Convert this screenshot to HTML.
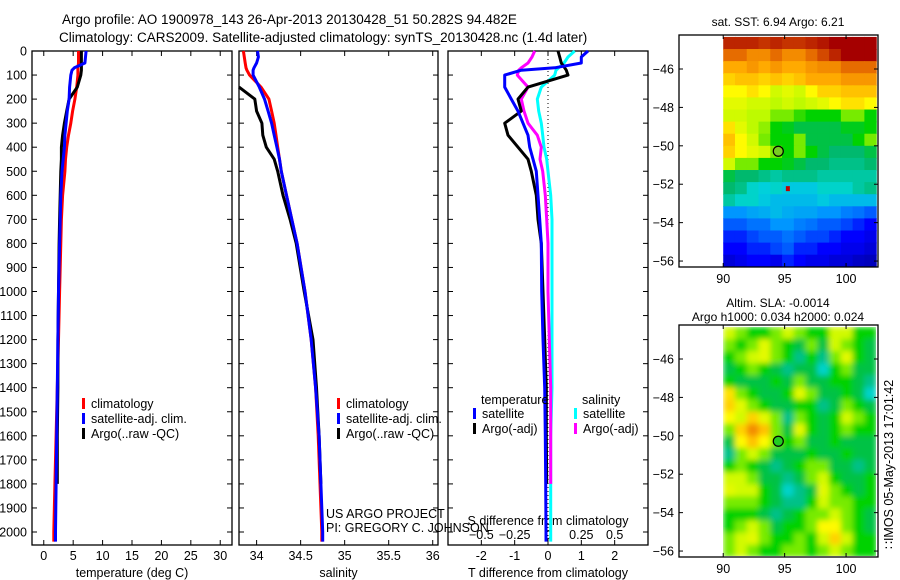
<!DOCTYPE html>
<html><head><meta charset="utf-8">
<style>
html,body{margin:0;padding:0;background:#fff;}
svg{display:block;font-family:"Liberation Sans",sans-serif;}
</style></head>
<body>
<svg id="fig" width="900" height="580" viewBox="0 0 900 580" xmlns="http://www.w3.org/2000/svg">
<defs><filter id="blur" x="0" y="0" width="1" height="1"><feGaussianBlur stdDeviation="3"/></filter>
<clipPath id="clipSLA"><rect x="722" y="327" width="154" height="229"/></clipPath></defs>
<text x="62" y="24" font-size="13.5">Argo profile: AO 1900978_143 26-Apr-2013 20130428_51 50.282S 94.482E</text>
<text x="59" y="42" font-size="13.5">Climatology: CARS2009. Satellite-adjusted climatology: synTS_20130428.nc (1.4d later)</text>
</svg>
<script>
// ---- profile data ----
const depths=[0,25,50,70,80,100,150,200,250,300,350,400,450,500,600,700,800,1000,1200,1400,1600,1800,2000,2040];
const tempClim=[5.9,5.9,5.9,5.8,5.8,5.8,5.6,5.3,4.9,4.6,4.2,3.9,3.7,3.6,3.2,3.0,2.9,2.7,2.5,2.3,2.1,1.9,1.7,1.7];
const tempSat=[7.2,7.1,7.0,5.2,4.8,4.6,4.4,4.3,4.0,3.8,3.6,3.5,3.3,3.1,2.9,2.8,2.7,2.5,2.4,2.3,2.2,2.1,2.0,2.0];
const tempArgo=[6.4,6.4,6.4,6.4,6.4,6.3,5.7,4.3,3.9,3.5,3.2,3.0,3.0,2.9,2.8,2.7,2.6,2.5,2.4,2.4,2.3,2.3,null,null];
const salClim=[33.85,33.86,33.87,33.88,33.89,33.92,34.05,34.14,34.17,34.2,34.22,34.24,34.26,34.28,34.34,34.4,34.46,34.55,34.62,34.67,34.70,34.72,34.74,34.74];
const salSat=[34.01,34.02,34.0,33.97,33.96,33.96,34.03,34.09,34.13,34.17,34.2,34.23,34.26,34.28,34.34,34.4,34.46,34.55,34.62,34.67,34.71,34.73,34.75,34.75];
const salArgo=[null,null,null,null,null,null,33.8,33.98,34.0,34.06,34.07,34.11,34.2,34.24,34.3,34.38,34.45,34.54,34.64,34.68,34.71,34.73,null,null];
const dTsat=[1.2,1.0,1.0,0.2,-0.8,-1.3,-1.3,-1.1,-0.9,-0.75,-0.6,-0.55,-0.45,-0.35,-0.3,-0.25,-0.2,-0.19,-0.15,-0.1,-0.08,-0.07,-0.06,-0.06];
const dTargo=[0.3,0.35,0.4,0.5,0.55,0.6,-0.6,-0.9,-0.8,-1.3,-1.2,-0.9,-0.6,-0.5,-0.35,-0.3,-0.2,-0.15,-0.1,-0.05,-0.05,-0.04,null,null];
const dSsat=[0.2,0.15,0.12,0.08,0.06,0.05,-0.05,-0.08,-0.07,-0.05,-0.04,-0.03,-0.01,0.0,0.02,0.03,0.03,0.03,0.03,0.03,0.02,0.02,0.02,0.02];
const dSargo=[-0.1,-0.12,-0.15,-0.2,-0.22,-0.23,-0.15,-0.2,-0.18,-0.15,-0.08,-0.05,-0.06,-0.04,-0.02,-0.01,0.0,0.0,0.01,0.02,0.02,0.02,null,null];
const depthTicks=[0,100,200,300,400,500,600,700,800,900,1000,1100,1200,1300,1400,1500,1600,1700,1800,1900,2000];
const tempTicks=[0,5,10,15,20,25,30];
const salTicks=[34,34.5,35,35.5,36];
const dTTicks=[-2,-1,0,1,2];
const dSTicks=[-0.5,-0.25,0,0.25,0.5];
// ---- map data (colormap index 0..1) ----
const sstGrid=[
[0.95,0.95,0.95,0.93,0.95,0.93,0.93,0.95,0.97,1,1,1,1],
[0.85,0.85,0.8,0.8,0.85,0.8,0.8,0.85,0.9,0.95,1,1,1],
[0.75,0.75,0.78,0.75,0.78,0.75,0.75,0.78,0.8,0.8,0.85,0.85,0.85],
[0.7,0.72,0.72,0.7,0.72,0.7,0.72,0.75,0.75,0.75,0.78,0.78,0.78],
[0.65,0.65,0.68,0.65,0.6,0.62,0.6,0.65,0.7,0.7,0.72,0.72,0.72],
[0.62,0.62,0.6,0.6,0.58,0.6,0.58,0.6,0.62,0.65,0.68,0.68,0.65],
[0.6,0.6,0.58,0.58,0.55,0.55,0.52,0.5,0.5,0.5,0.55,0.55,0.5],
[0.68,0.62,0.58,0.56,0.5,0.48,0.45,0.45,0.45,0.45,0.48,0.48,0.5],
[0.72,0.65,0.6,0.55,0.5,0.5,0.55,0.45,0.45,0.45,0.45,0.5,0.55],
[0.7,0.65,0.62,0.6,0.55,0.5,0.55,0.5,0.45,0.42,0.42,0.42,0.45],
[0.6,0.55,0.55,0.5,0.5,0.48,0.45,0.42,0.42,0.4,0.4,0.4,0.42],
[0.45,0.42,0.42,0.4,0.38,0.4,0.4,0.4,0.38,0.38,0.38,0.38,0.38],
[0.42,0.4,0.35,0.33,0.35,0.32,0.32,0.32,0.35,0.35,0.35,0.38,0.4],
[0.38,0.35,0.35,0.32,0.3,0.3,0.3,0.3,0.32,0.3,0.3,0.3,0.3],
[0.25,0.25,0.27,0.28,0.3,0.28,0.27,0.27,0.25,0.25,0.23,0.22,0.2],
[0.2,0.2,0.22,0.22,0.25,0.25,0.23,0.22,0.2,0.2,0.18,0.15,0.12],
[0.15,0.15,0.18,0.2,0.2,0.22,0.2,0.18,0.18,0.15,0.12,0.12,0.1],
[0.12,0.12,0.15,0.15,0.18,0.2,0.15,0.15,0.12,0.12,0.1,0.1,0.08],
[0.08,0.1,0.12,0.12,0.1,0.15,0.12,0.1,0.1,0.08,0.08,0.06,0.05]];
const slaGrid=[
[.6,.55,.5,.5,.55,.6,.55,.5,.5,.6,.6,.5,.5],
[.55,.5,.55,.62,.55,.5,.45,.55,.45,.6,.55,.5,.45],
[.5,.55,.6,.62,.55,.5,.4,.5,.4,.55,.62,.5,.45],
[.45,.5,.55,.5,.45,.4,.45,.45,.35,.5,.55,.45,.45],
[.5,.45,.45,.45,.5,.45,.55,.45,.45,.5,.5,.45,.4],
[.68,.55,.5,.45,.45,.5,.62,.55,.45,.45,.5,.45,.35],
[.7,.62,.55,.5,.45,.45,.5,.5,.4,.45,.55,.5,.45],
[.65,.6,.7,.62,.55,.4,.55,.5,.45,.5,.6,.55,.5],
[.55,.7,.8,.72,.55,.45,.62,.5,.45,.5,.55,.5,.5],
[.45,.65,.72,.65,.55,.5,.55,.45,.45,.5,.45,.45,.45],
[.4,.55,.6,.55,.45,.45,.45,.5,.45,.45,.5,.45,.45],
[.5,.55,.5,.45,.4,.45,.5,.55,.55,.45,.45,.4,.45],
[.6,.6,.55,.45,.45,.4,.45,.55,.6,.5,.45,.45,.5],
[.62,.6,.6,.5,.45,.35,.4,.45,.62,.55,.5,.45,.5],
[.55,.55,.55,.5,.45,.4,.4,.5,.6,.55,.55,.5,.5],
[.5,.5,.5,.45,.4,.45,.5,.55,.55,.6,.55,.5,.45],
[.5,.55,.6,.55,.45,.5,.5,.55,.65,.65,.55,.5,.45],
[.55,.6,.62,.55,.5,.5,.55,.5,.6,.7,.6,.5,.5],
[.55,.6,.55,.5,.5,.55,.55,.5,.55,.6,.55,.5,.5]];
const latTicks=[-46,-48,-50,-52,-54,-56];
const lonTicks=[90,95,100];
const argoLon=94.482, argoLat=-50.282;

const NS="http://www.w3.org/2000/svg";
const svg=document.getElementById('fig');
function mk(tag,attrs,parent){const e=document.createElementNS(NS,tag);for(const k in attrs)e.setAttribute(k,attrs[k]);(parent||svg).appendChild(e);return e;}
function txt(x,y,s,anchor,size,parent){const t=mk('text',{x:x,y:y,'font-size':size||12.5,'text-anchor':anchor||'start'},parent);t.textContent=s;return t;}

const PT=51, PB=545, DMAX=2054;
const yD=d=>PT+(d/DMAX)*(PB-PT);
function lin(d0,d1,r0,r1){return v=>r0+(v-d0)/(d1-d0)*(r1-r0);}

function panel(name,x0,x1,xs,ticks,label,fmt){
  const g=mk('g',{});
  
  
  const r=mk('rect',{x:x0,y:PT,width:x1-x0,height:PB-PT,fill:'none',stroke:'#000','stroke-width':1.3},g);
  
  
  depthTicks.forEach(d=>{const y=yD(d);mk('line',{x1:x0,x2:x0+5,y1:y,y2:y,stroke:'#000'},g);mk('line',{x1:x1,x2:x1-5,y1:y,y2:y,stroke:'#000'},g);});
  ticks.forEach(t=>{const x=xs(t);mk('line',{x1:x,x2:x,y1:PB,y2:PB-5,stroke:'#000'},g);mk('line',{x1:x,x2:x,y1:PT,y2:PT+5,stroke:'#000'},g);
    const l=txt(x,560,fmt?fmt(t):String(t),'middle',12.5,g);
    
    });
  const xl=txt((x0+x1)/2,577,label,'middle',12.5,g);
  
  
  return g;
}
function series(g,xs,vals,color,name,w){
  let d='',pen=false;
  vals.forEach((v,i)=>{if(v===null||v===undefined){pen=false;return;}d+=(pen?'L':'M')+xs(v).toFixed(1)+','+yD(depths[i]).toFixed(1);pen=true;});
  const p=mk('path',{d:d,fill:'none',stroke:color,'stroke-width':w||3,'stroke-linejoin':'round'},g);
  
  
}
function legend(g,x,y,items){
  items.forEach((it,i)=>{mk('rect',{x:x,y:y+i*15-10,width:3,height:11,fill:it[1]},g);
    const t=txt(x+9,y+i*15,it[0],'start',12.5,g);
    
    });
}
depthTicks.forEach(d=>{const t=txt(27,yD(d)+4.5,String(d),'end',12.5);
  
  });

// Panel 1: temperature
const xT=lin(-2,32,32,232);
const g1=panel('temperature-panel',32,232,xT,tempTicks,'temperature (deg C)');
series(g1,xT,tempClim,'#f00','temp-climatology-line');
series(g1,xT,tempArgo,'#000','temp-argo-line');
series(g1,xT,tempSat,'#00f','temp-satellite-line');
legend(g1,82,408,[['climatology','#f00'],['satellite-adj. clim.','#00f'],['Argo(..raw -QC)','#000']]);

// Panel 2: salinity
const xS=lin(33.8,36.06,239,438);
const g2=panel('salinity-panel',239,438,xS,salTicks,'salinity');
series(g2,xS,salClim,'#f00','sal-climatology-line');
series(g2,xS,salArgo,'#000','sal-argo-line');
series(g2,xS,salSat,'#00f','sal-satellite-line');
legend(g2,337,408,[['climatology','#f00'],['satellite-adj. clim.','#00f'],['Argo(..raw -QC)','#000']]);
const c1=txt(326,518,'US ARGO PROJECT','start',12.5);


const c2=txt(326,532,'PI: GREGORY C. JOHNSON','start',12.5);



// Panel 3: differences
const xdT=lin(-3,3,448,648), xdS=lin(-0.75,0.75,448,648);
const g3=panel('difference-panel',448,648,xdT,dTTicks,'T difference from climatology');
dSTicks.forEach(t=>{const l=txt(xdS(t),539,String(t).replace('-','\u2212'),'middle',12.5,g3);
  
  });
const st=txt(548,525,'S difference from climatology','middle',12.5,g3);


mk('line',{x1:xdT(0),x2:xdT(0),y1:PT,y2:PB,stroke:'#000','stroke-dasharray':'1,3'},g3);
series(g3,xdS,dSsat,'#0ff','sal-diff-satellite-line');
series(g3,xdS,dSargo,'#f0f','sal-diff-argo-line');
series(g3,xdT,dTargo,'#000','temp-diff-argo-line');
series(g3,xdT,dTsat,'#00f','temp-diff-satellite-line');
const lt=txt(481,404,'temperature','start',12.5,g3);
const ls=txt(582,404,'salinity','start',12.5,g3);
legend(g3,473,418,[['satellite','#00f'],['Argo(-adj)','#000']]);
legend(g3,574,418,[['satellite','#0ff'],['Argo(-adj)','#f0f']]);

// custom colormap (blue-cyan-green-yellow-red)
const cmapStops=[[0,0,0,140],[0.12,0,0,255],[0.25,0,150,255],[0.34,0,215,215],[0.42,0,185,110],[0.5,0,210,0],[0.58,190,250,0],[0.65,255,250,0],[0.75,255,170,0],[0.87,225,95,0],[1,165,0,0]];
function cmap(v){v=Math.max(0,Math.min(1,v));
  for(let i=1;i<cmapStops.length;i++){const a=cmapStops[i-1],b=cmapStops[i];
    if(v<=b[0]){const f=(v-a[0])/(b[0]-a[0]);return 'rgb('+Math.round(a[1]+f*(b[1]-a[1]))+','+Math.round(a[2]+f*(b[2]-a[2]))+','+Math.round(a[3]+f*(b[3]-a[3]))+')';}}
  return 'rgb(165,0,0)';}

function map(name,top,grid,title1,title2,smooth,hot){
  const bot=top+232, L=679, R=878;
  const lon=lin(86.4,102.6,L,R), lat=lin(-44.23,-56.31,top,bot);
  const g=mk('g',{});
  
  
  const cg=mk('g',smooth?{filter:'url(#blur)'}:{},smooth?mk('g',{'clip-path':'url(#clipSLA)'},g):g);
  const nr=grid.length, nc=grid[0].length;
  const x0=lon(90), x1=lon(102.45), y0=lat(-44.33), y1=lat(-56.3);
  const cw=(x1-x0)/nc, ch=(y1-y0)/nr;
  grid.forEach((row,i)=>row.forEach((v,j)=>{
    const c=mk('rect',{x:(x0+j*cw).toFixed(2),y:(y0+i*ch).toFixed(2),width:(cw+0.6).toFixed(2),height:(ch+0.6).toFixed(2),fill:cmap(v)},cg);
    
    }));
  if(hot){const h=mk('rect',{x:lon(95.1),y:lat(-52.1),width:4,height:5,fill:'#c00000'},g);
    }
  mk('rect',{x:L,y:top,width:R-L,height:bot-top,fill:'none',stroke:'#000','stroke-width':1.3},g);
  latTicks.forEach(t=>{const y=lat(t);mk('line',{x1:L,x2:L+4,y1:y,y2:y,stroke:'#000'},g);mk('line',{x1:R,x2:R-4,y1:y,y2:y,stroke:'#000'},g);
    const l=txt(674,y+4.5,String(t).replace('-','\u2212'),'end',12.5,g);
    
    });
  lonTicks.forEach(t=>{const x=lon(t);mk('line',{x1:x,x2:x,y1:top,y2:top+4,stroke:'#000'},g);mk('line',{x1:x,x2:x,y1:bot,y2:bot-4,stroke:'#000'},g);
    const l=txt(x,bot+16,String(t),'middle',12.5,g);
    
    });
  const m=mk('circle',{cx:lon(argoLon),cy:lat(argoLat),r:5,fill:smooth?'#22cc22':'#77cc22',stroke:'#000','stroke-width':1.2},g);
  
  
  if(title2){const a=txt(778,top-18,title1,'middle',12,g);
    const b=txt(778,top-4,title2,'middle',12,g);}
  else{const a=txt(778,top-9,title1,'middle',12,g);}
}
map('sst-map',35,sstGrid,'sat. SST: 6.94 Argo: 6.21',null,false,true);
map('sla-map',325,slaGrid,'Altim. SLA: -0.0014','Argo h1000: 0.034 h2000: 0.024',true,false);
const stamp=txt(0,0,'\u2237IMOS 05-May-2013 17:01:42','start',12.5);
stamp.setAttribute('transform','translate(893,549) rotate(-90)');


</script>
</body></html>
